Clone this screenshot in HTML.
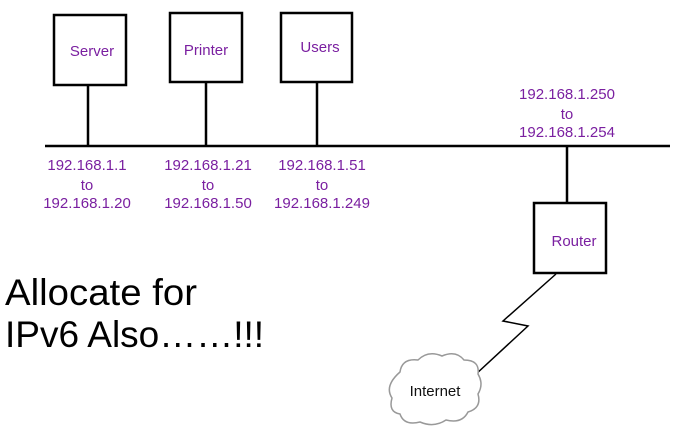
<!DOCTYPE html>
<html><head><style>
body{margin:0;background:#fff;width:676px;height:433px;overflow:hidden}
</style></head><body>
<svg width="676" height="433" xmlns="http://www.w3.org/2000/svg" font-family="Liberation Sans, Arial, sans-serif">
<g fill="none" stroke="#000" stroke-width="2.5">
<rect x="54" y="15" width="72" height="70"/>
<rect x="170" y="13" width="72" height="69"/>
<rect x="281" y="13" width="71" height="69"/>
<rect x="534" y="203" width="72" height="70"/>
<line x1="45" y1="146" x2="670" y2="146"/>
<line x1="88" y1="85" x2="88" y2="146"/>
<line x1="206" y1="82" x2="206" y2="146"/>
<line x1="317" y1="82" x2="317" y2="146"/>
<line x1="567" y1="146" x2="567" y2="203"/>
</g>
<polyline points="556,274 503,321 528,326 475,375" fill="none" stroke="#000" stroke-width="1.5"/>
<path d="M400,372 q2,-14 18,-12 q10,-10 24,-4 q14,-6 22,4 q16,0 14,14 q6,10 0,20 q4,14 -10,18 q-6,12 -22,8 q-12,8 -26,2 q-16,4 -20,-8 q-12,-2 -8,-16 q-8,-12 8,-26z" fill="#fff" stroke="#999" stroke-width="1.5"/>
<text x="435" y="396" font-size="15" text-anchor="middle" fill="#111">Internet</text>
<g fill="#7a1fa0" font-size="15" text-anchor="middle">
<text x="92" y="56">Server</text>
<text x="206" y="55">Printer</text>
<text x="320" y="52">Users</text>
<text x="574" y="246">Router</text>
<text x="87" y="170">192.168.1.1</text><text x="87" y="190">to</text><text x="87" y="208">192.168.1.20</text>
<text x="208" y="170">192.168.1.21</text><text x="208" y="190">to</text><text x="208" y="208">192.168.1.50</text>
<text x="322" y="170">192.168.1.51</text><text x="322" y="190">to</text><text x="322" y="208">192.168.1.249</text>
<text x="567" y="99">192.168.1.250</text><text x="567" y="119">to</text><text x="567" y="137">192.168.1.254</text>
</g>
<text x="5" y="305" font-size="37" fill="#000" textLength="192" lengthAdjust="spacingAndGlyphs">Allocate for</text>
<text x="5" y="347" font-size="37" fill="#000">IPv6 Also……!!!</text>
</svg>
</body></html>
